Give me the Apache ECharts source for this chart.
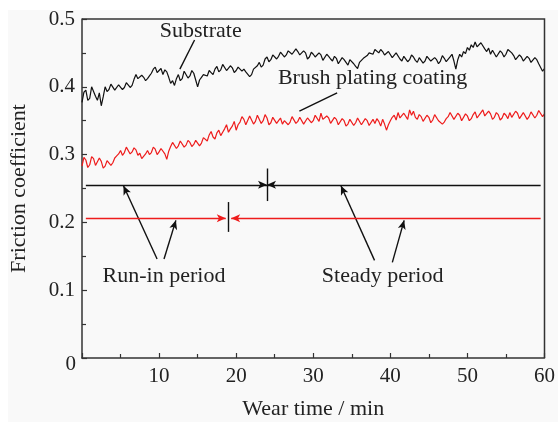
<!DOCTYPE html>
<html>
<head>
<meta charset="utf-8">
<script src="https://cdn.jsdelivr.net/npm/echarts@6/dist/echarts.min.js"></script>
<style>
html,body{margin:0;padding:0;background:#ffffff;}
#wrap{position:absolute;left:8px;top:10px;width:550px;height:412px;background:#f9f9f9;}
#c{position:absolute;left:0;top:0;width:558px;height:425px;}
</style>
</head>
<body>
<div id="wrap"></div>
<div id="c"></div>
<script>
// Wear time (min), sampled every 0.25 min from 0 to 60
var timeStep = 0.25;
var substrate = [
0.377,0.392,0.395,0.380,0.383,0.400,0.398,0.386,
0.380,0.391,0.372,0.385,0.400,0.393,0.396,0.404,
0.402,0.395,0.397,0.403,0.401,0.396,0.399,0.406,
0.404,0.399,0.402,0.411,0.418,0.412,0.410,0.417,
0.414,0.409,0.412,0.416,0.420,0.426,0.429,0.421,
0.424,0.427,0.418,0.425,0.422,0.414,0.405,0.409,
0.402,0.412,0.418,0.409,0.412,0.423,0.422,0.413,
0.416,0.424,0.420,0.410,0.400,0.410,0.414,0.418,
0.420,0.416,0.424,0.421,0.418,0.426,0.430,0.422,
0.425,0.433,0.432,0.424,0.426,0.431,0.428,0.421,
0.424,0.429,0.430,0.423,0.426,0.422,0.420,0.415,
0.418,0.426,0.424,0.431,0.436,0.429,0.432,0.441,
0.444,0.437,0.440,0.447,0.448,0.441,0.445,0.451,
0.452,0.444,0.447,0.453,0.455,0.448,0.450,0.456,
0.452,0.447,0.446,0.453,0.450,0.441,0.444,0.451,
0.448,0.444,0.442,0.450,0.447,0.439,0.441,0.448,
0.445,0.441,0.438,0.445,0.442,0.434,0.436,0.443,
0.440,0.436,0.432,0.440,0.438,0.434,0.430,0.427,
0.436,0.439,0.442,0.440,0.446,0.450,0.452,0.448,
0.455,0.457,0.450,0.455,0.452,0.447,0.446,0.452,
0.450,0.443,0.444,0.450,0.448,0.441,0.438,0.445,
0.446,0.437,0.440,0.447,0.444,0.439,0.436,0.443,
0.442,0.435,0.438,0.445,0.444,0.438,0.436,0.443,
0.440,0.434,0.438,0.446,0.442,0.437,0.436,0.444,
0.448,0.438,0.426,0.440,0.448,0.444,0.452,0.449,
0.458,0.454,0.462,0.458,0.466,0.459,0.460,0.465,
0.463,0.456,0.452,0.457,0.448,0.454,0.452,0.444,
0.446,0.453,0.450,0.444,0.448,0.455,0.456,0.450,
0.446,0.440,0.442,0.447,0.444,0.438,0.440,0.445,
0.442,0.436,0.438,0.443,0.440,0.434,0.432,0.423,
0.427
];
var coating = [
0.283,0.296,0.292,0.281,0.285,0.297,0.294,0.284,
0.286,0.295,0.290,0.280,0.283,0.291,0.293,0.284,
0.288,0.295,0.298,0.301,0.306,0.299,0.303,0.311,
0.309,0.301,0.304,0.310,0.307,0.299,0.302,0.294,
0.292,0.301,0.306,0.300,0.303,0.311,0.308,0.300,
0.304,0.309,0.310,0.301,0.293,0.305,0.312,0.318,
0.316,0.309,0.313,0.320,0.319,0.311,0.314,0.321,
0.318,0.312,0.315,0.321,0.320,0.313,0.317,0.325,
0.324,0.320,0.329,0.334,0.326,0.323,0.332,0.336,
0.328,0.333,0.338,0.344,0.333,0.338,0.342,0.349,
0.336,0.344,0.348,0.356,0.352,0.344,0.346,0.357,
0.355,0.345,0.349,0.358,0.356,0.346,0.350,0.359,
0.354,0.344,0.347,0.355,0.356,0.346,0.350,0.354,
0.345,0.350,0.352,0.344,0.348,0.356,0.354,0.346,
0.349,0.355,0.353,0.345,0.347,0.354,0.355,0.347,
0.350,0.358,0.356,0.349,0.361,0.352,0.351,0.357,
0.354,0.346,0.348,0.355,0.352,0.344,0.346,0.353,
0.350,0.342,0.345,0.352,0.351,0.343,0.347,0.354,
0.352,0.344,0.346,0.353,0.350,0.343,0.345,0.352,
0.346,0.353,0.349,0.342,0.352,0.345,0.336,0.344,
0.350,0.355,0.358,0.351,0.362,0.354,0.356,0.361,
0.359,0.352,0.366,0.358,0.364,0.355,0.352,0.359,
0.356,0.349,0.350,0.358,0.355,0.347,0.351,0.359,
0.357,0.350,0.352,0.345,0.348,0.353,0.356,0.362,
0.360,0.352,0.354,0.361,0.358,0.350,0.352,0.360,
0.357,0.350,0.353,0.359,0.363,0.354,0.356,0.362,
0.366,0.357,0.358,0.364,0.360,0.352,0.355,0.362,
0.359,0.351,0.354,0.361,0.358,0.353,0.362,0.355,
0.357,0.364,0.361,0.353,0.355,0.362,0.360,0.352,
0.356,0.363,0.362,0.354,0.358,0.365,0.363,0.356,
0.360
];
// Period markers: [start, boundary, end] in min, and level of the marker line
var substratePeriod = [0.5, 24, 59.5];
var substrateLevel = 0.2555;
var coatingPeriod = [0.5, 19, 59.5];
var coatingLevel = 0.206;
var xTicks = [0, 10, 20, 30, 40, 50, 60];
var yTicks = [0, 0.1, 0.2, 0.3, 0.4, 0.5];
var labels = ['Substrate', 'Brush plating coating', 'Run-in period', 'Steady period'];

function pairs(arr){ return arr.map(function(v,i){ return [i*timeStep, v]; }); }

var FONT = '"Liberation Serif","DejaVu Serif",serif';
var chart = echarts.init(document.getElementById('c'), null, {renderer:'canvas'});

function seg(a, b, arrow, color){
  return [{coord:a, symbol:'none', lineStyle:{color:color}}, {coord:b, symbol: arrow ? 'arrow' : 'none', symbolSize:[6,9], itemStyle:{color:color}, lineStyle:{color:color}}];
}

var blackCol = '#111111', redCol = '#ee1c1c';
var markBlack = [
  seg([substratePeriod[0], substrateLevel], [substratePeriod[1], substrateLevel], true, blackCol),
  seg([substratePeriod[2], substrateLevel], [substratePeriod[1], substrateLevel], true, blackCol),
  seg([substratePeriod[1], substrateLevel+0.024], [substratePeriod[1], substrateLevel-0.024], false, blackCol),
  seg([9.74, 0.146], [5.38, 0.254], true, blackCol),
  seg([10.64, 0.146], [12.18, 0.203], true, blackCol),
  seg([37.95, 0.144], [33.59, 0.254], true, blackCol),
  seg([40.26, 0.141], [41.79, 0.203], true, blackCol),
  seg([14.6, 0.469], [12.7, 0.426], false, blackCol),
  seg([33.1, 0.391], [28.2, 0.364], false, blackCol)
];
var markRed = [
  seg([coatingPeriod[0], coatingLevel], [coatingPeriod[1]-0.35, coatingLevel], true, redCol),
  seg([coatingPeriod[2], coatingLevel], [coatingPeriod[1]+0.35, coatingLevel], true, redCol),
  seg([coatingPeriod[1], coatingLevel+0.024], [coatingPeriod[1], coatingLevel-0.02], false, blackCol)
];

var textPos = [[15.4, 0.482], [37.7, 0.413], [10.64, 0.120], [39.0, 0.120]];

chart.setOption({
  animation:false,
  backgroundColor:'transparent',
  grid:{left:79, right:11, top:19, bottom:63},
  xAxis:{
    type:'value', min:0, max:60, interval:10,
    name:'Wear time / min', nameLocation:'middle', nameGap:40,
    nameTextStyle:{fontFamily:FONT, fontSize:22, color:'#222'},
    axisLine:{show:true, lineStyle:{color:'#333', width:1.5}},
    axisTick:{show:true, inside:true, length:5, lineStyle:{color:'#333', width:1.2}},
    minorTick:{show:true, splitNumber:2, length:4, lineStyle:{color:'#333', width:1.2}},
    axisLabel:{fontFamily:FONT, fontSize:21, color:'#222', margin:8,
      formatter:function(v){ return v===0 ? '' : String(v); }},
    splitLine:{show:false}
  },
  yAxis:{
    type:'value', min:0, max:0.5, interval:0.1,
    name:'Friction coefficient', nameLocation:'middle', nameGap:52,
    nameTextStyle:{fontFamily:FONT, fontSize:22, color:'#222'},
    axisLine:{show:true, lineStyle:{color:'#333', width:1.5}},
    axisTick:{show:true, inside:true, length:5, lineStyle:{color:'#333', width:1.2}},
    minorTick:{show:true, splitNumber:2, length:4, lineStyle:{color:'#333', width:1.2}},
    axisLabel:{fontFamily:FONT, fontSize:21, color:'#222', margin:7,
      formatter:function(v){ return v===0 ? '' : v.toFixed(1); }},
    splitLine:{show:false}
  },
  graphic:[],
  series:[
    {type:'line', data:pairs(substrate), showSymbol:false, lineStyle:{color:blackCol, width:1.2}, z:3,
     markLine:{silent:true, animation:false, label:{show:false}, lineStyle:{type:'solid', width:1.4, color:blackCol}, data:markBlack}},
    {type:'line', data:pairs(coating), showSymbol:false, lineStyle:{color:redCol, width:1.2}, z:3,
     markLine:{silent:true, animation:false, label:{show:false}, lineStyle:{type:'solid', width:1.4, color:redCol}, data:markRed}}
  ]
});

var p0 = chart.convertToPixel({gridIndex:0}, [0, 0.5]);
var p1 = chart.convertToPixel({gridIndex:0}, [60, 0]);
var g = [
  {type:'polyline', shape:{points:[[p0[0],p0[1]],[p1[0],p0[1]],[p1[0],p1[1]]]}, style:{stroke:'#333', lineWidth:1.5, fill:null}, z:10},
  {type:'text', style:{text:'0', x:p0[0]-6, y:p1[1]+6, align:'right', verticalAlign:'middle', font:'21px '+FONT, fill:'#222'}}
];
labels.forEach(function(t,i){
  var p = chart.convertToPixel({gridIndex:0}, textPos[i]);
  g.push({type:'text', style:{text:t, x:p[0], y:p[1], align:'center', verticalAlign:'middle', font:'22px '+FONT, fill:'#222'}, z:10});
});
chart.setOption({graphic:g});
</script>
</body>
</html>
